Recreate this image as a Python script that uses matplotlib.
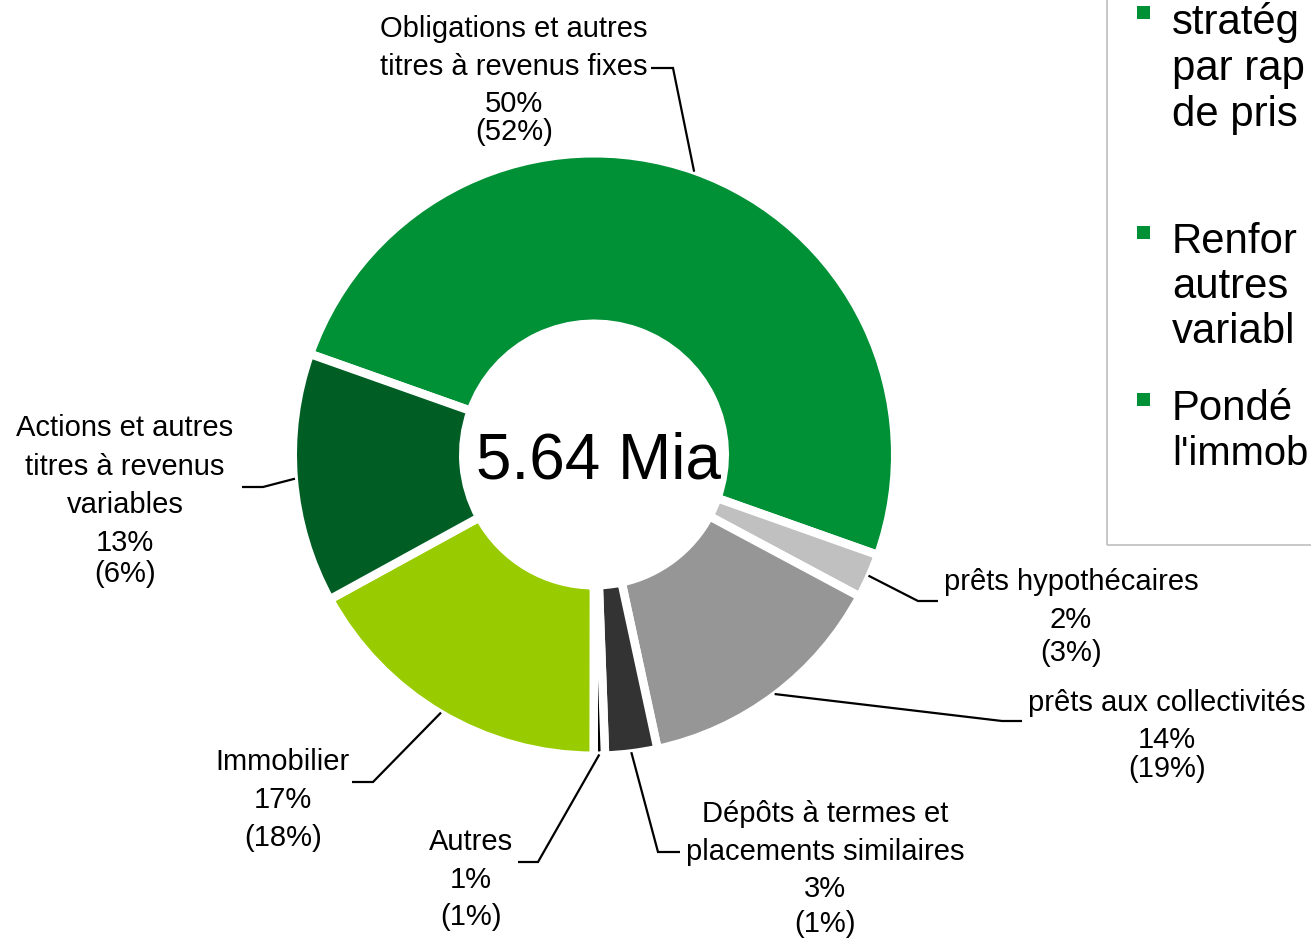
import matplotlib
matplotlib.use("Agg")
import matplotlib.pyplot as plt
import numpy as np
from matplotlib.patches import Rectangle

# ---------------- data ----------------
categories = ["Obligations et autres\ntitres à revenus fixes",
              "prêts hypothécaires",
              "prêts aux collectivités",
              "Dépôts à termes et\nplacements similaires",
              "Autres",
              "Immobilier",
              "Actions et autres\ntitres à revenus\nvariables"]
values = [50.0, 2.4, 13.8, 2.8, 0.6, 17.0, 13.4]
share_labels = ["50%", "2%", "14%", "3%", "1%", "17%", "13%"]
prior_labels = ["(52%)", "(3%)", "(19%)", "(1%)", "(1%)", "(18%)", "(6%)"]
total_label = "5.64 Mia"
# visible part of the side text box (cut by the slide edge in the reference)
bullet_lines = [["stratég", "par rap", "de pris"],
                ["Renfor", "autres", "variabl"],
                ["Pondé", "l'immob"]]

# ---------------- style / layout ----------------
colors = ["#009036", "#C0C0C0", "#969696", "#333333", "#000000", "#99CC00", "#005E25"]
FONT = "Liberation Sans"
W, H = 1311, 938

fig = plt.figure(figsize=(W / 100, H / 100), dpi=100)
ax = fig.add_axes([0, 0, 1, 1])


def P(x, y):
    return (x, H - y)


cx, cy = 594, 454.5
gap_px = 8.5
r_out_vis, r_in_vis = 297, 135
R = r_out_vis + gap_px / 2
r_in = r_in_vis - gap_px / 2
lw_pt = gap_px * 72 / 100

wedges, _ = ax.pie(values, colors=colors, startangle=160.5, counterclock=False,
                   radius=R, center=P(cx, cy),
                   wedgeprops=dict(width=R - r_in, edgecolor="white", linewidth=lw_pt))

# leader lines (start at wedge mid-angle on the outer edge)
elbows = [(673, 68), (918, 601), (1002, 721), (658, 852), (538, 862), (373, 782), (263, 487)]
ends_x = [651, 938, 1022, 680, 518, 352, 242]
C = P(cx, cy)
for w, (ex, ey), endx in zip(wedges, elbows, ends_x):
    a = np.deg2rad((w.theta1 + w.theta2) / 2)
    sx, sy = C[0] + 300 * np.cos(a), C[1] + 300 * np.sin(a)
    ex_, ey_ = P(ex, ey)
    ax.plot([sx, ex_, endx], [sy, ey_, ey_], color="black", lw=1.6,
            solid_joinstyle="miter", solid_capstyle="butt", zorder=5)

# labels
label_x = [514, 1071, 1167, 825, 471, 283, 125]
label_y = [[27, 65, 102, 130], [580, 618, 651], [701, 738, 767],
           [812, 850, 887, 922], [840, 878, 915], [760, 798, 836],
           [426, 465, 503, 541, 572]]
for name, share, prior, x, ys in zip(categories, share_labels, prior_labels, label_x, label_y):
    lines = name.split("\n") + [share, prior]
    for txt, y in zip(lines, ys):
        ax.text(*P(x, y + 2), txt, ha="center", va="center", fontsize=21,
                family=FONT, color="black", zorder=6)

# centre total
ax.text(*P(599, 478), total_label, ha="center", va="baseline", fontsize=46,
        family=FONT, color="black", zorder=6)

# right text box (partially outside the figure)
ax.add_patch(Rectangle(P(1107, 545), 260, 600, facecolor="none",
                       edgecolor="#BFBFBF", lw=1.2, zorder=4, clip_on=False))
group_baselines = [[34, 80, 126], [253, 298, 343], [420, 465]]
bullet_tops = [6, 226, 393]
for lines, bls, bt in zip(bullet_lines, group_baselines, bullet_tops):
    ax.add_patch(Rectangle(P(1137, bt + 13), 13, 13, facecolor="#009036",
                           edgecolor="none", zorder=5))
    for txt, b in zip(lines, bls):
        fs = 30.2 if len(txt) < 7 or txt != "l'immob" else 28.8
        ax.text(*P(1172, b), txt, ha="left", va="baseline", fontsize=fs,
                family=FONT, color="black", zorder=6)

ax.set_xlim(0, W)
ax.set_ylim(0, H)
ax.set_aspect("equal")
ax.axis("off")

fig.savefig("out.png", dpi=100, facecolor="white")
